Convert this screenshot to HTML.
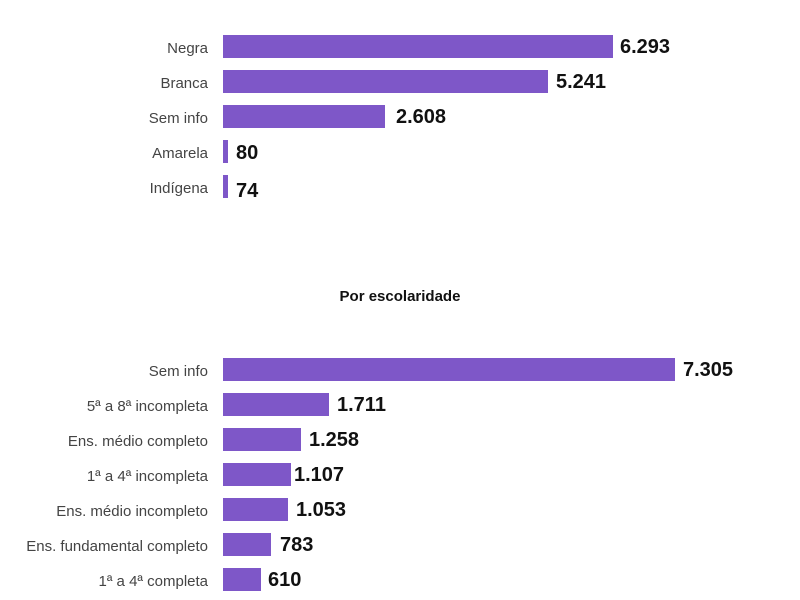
<!DOCTYPE html>
<html><head><meta charset="utf-8"><style>
body{margin:0;width:800px;height:600px;background:#fff;font-family:"Liberation Sans",sans-serif;position:relative;overflow:hidden}
.l{position:absolute;right:592px;font-size:15px;color:#444;line-height:23px;white-space:nowrap;margin-top:2px}
.b{position:absolute;left:223px;height:23px;background:#7e57c8}
.v{position:absolute;font-size:20px;font-weight:bold;color:#111;line-height:23px}
.t{position:absolute;left:0;width:800px;top:288px;text-align:center;font-size:15px;font-weight:bold;color:#111}
</style></head><body>
<div class="l" style="top:35px">Negra</div><div class="b" style="top:35px;width:390px"></div><div class="v" style="top:36px;left:620px">6.293</div>
<div class="l" style="top:70px">Branca</div><div class="b" style="top:70px;width:325px"></div><div class="v" style="top:71px;left:556px">5.241</div>
<div class="l" style="top:105px">Sem info</div><div class="b" style="top:105px;width:162px"></div><div class="v" style="top:106px;left:396px">2.608</div>
<div class="l" style="top:140px">Amarela</div><div class="b" style="top:140px;width:5px"></div><div class="v" style="top:142px;left:236px">80</div>
<div class="l" style="top:175px">Indígena</div><div class="b" style="top:175px;width:5px"></div><div class="v" style="top:180px;left:236px">74</div>
<div class="t">Por escolaridade</div>
<div class="l" style="top:358px">Sem info</div><div class="b" style="top:358px;width:452px"></div><div class="v" style="top:359px;left:683px">7.305</div>
<div class="l" style="top:393px">5ª a 8ª incompleta</div><div class="b" style="top:393px;width:106px"></div><div class="v" style="top:394px;left:337px">1.711</div>
<div class="l" style="top:428px">Ens. médio completo</div><div class="b" style="top:428px;width:78px"></div><div class="v" style="top:429px;left:309px">1.258</div>
<div class="l" style="top:463px">1ª a 4ª incompleta</div><div class="b" style="top:463px;width:68px"></div><div class="v" style="top:464px;left:294px">1.107</div>
<div class="l" style="top:498px">Ens. médio incompleto</div><div class="b" style="top:498px;width:65px"></div><div class="v" style="top:499px;left:296px">1.053</div>
<div class="l" style="top:533px">Ens. fundamental completo</div><div class="b" style="top:533px;width:48px"></div><div class="v" style="top:534px;left:280px">783</div>
<div class="l" style="top:568px">1ª a 4ª completa</div><div class="b" style="top:568px;width:38px"></div><div class="v" style="top:569px;left:268px">610</div>
</body></html>
